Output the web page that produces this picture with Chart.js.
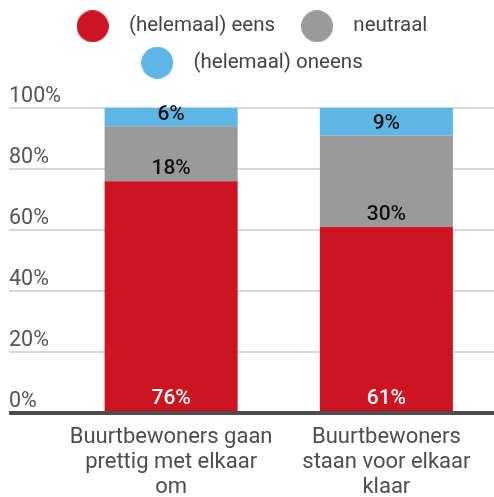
<!DOCTYPE html>
<html>
<head>
    <meta charset='utf-8'>
    <title>Buurtbewoners</title>
    <script src="https://cdn.jsdelivr.net/npm/chart.js@4"></script>
    <style>
        html, body { margin: 0; padding: 0; background: #fff; }
        #wrap { width: 494px; height: 497px; }
    </style>
</head>
<body>
    <div id="wrap"><canvas id="myChart"></canvas></div>
    <script>
        // data
        const categorieen = [
            ['Buurtbewoners gaan', 'prettig met elkaar', 'om'],
            ['Buurtbewoners', 'staan voor elkaar', 'klaar']
        ];
        const reeksen = ['(helemaal) eens', 'neutraal', '(helemaal) oneens'];
        const eens = [76, 61];
        const neutraal = [18, 30];
        const oneens = [6, 9];
        const kleuren = ['#cc1520', '#9a9a9a', '#5db6e4'];
        const labelKleuren = ['#ffffff', '#111111', '#111111'];
        const yTicks = [0, 20, 40, 60, 80, 100];

        Chart.defaults.font.family = 'Roboto';

        // ronde bolletjes voor de legenda
        function maakBol(kleur) {
            const c = document.createElement('canvas');
            c.width = 32; c.height = 32;
            const g = c.getContext('2d');
            g.fillStyle = kleur;
            g.beginPath();
            g.arc(16, 16, 16, 0, Math.PI * 2);
            g.fill();
            return c;
        }
        const bollen = kleuren.map(maakBol);

        // percentages in de staven
        const staafLabels = {
            id: 'staafLabels',
            afterDatasetsDraw(chart) {
                const ctx = chart.ctx;
                ctx.save();
                ctx.font = '500 21px Roboto';
                ctx.textAlign = 'center';
                ctx.textBaseline = 'middle';
                chart.data.datasets.forEach((ds, i) => {
                    chart.getDatasetMeta(i).data.forEach((bar, j) => {
                        ctx.fillStyle = labelKleuren[i];
                        ctx.fillText(ds.data[j] + '%', bar.x, bar.base - 12);
                    });
                });
                ctx.restore();
            }
        };

        // ruimte onder de legenda
        const legendaRuimte = {
            id: 'legendaRuimte',
            beforeInit(chart) {
                const fit = chart.legend.fit;
                chart.legend.fit = function () {
                    fit.call(this);
                    this.height = 108;
                };
            }
        };

        const gegevens = [eens, neutraal, oneens];

        new Chart(document.getElementById('myChart'), {
            type: 'bar',
            data: {
                labels: categorieen,
                datasets: reeksen.map((naam, i) => ({
                    label: naam,
                    data: gegevens[i],
                    backgroundColor: kleuren[i],
                    categoryPercentage: 1,
                    barPercentage: 0.618
                }))
            },
            options: {
                responsive: true,
                maintainAspectRatio: false,
                animation: false,
                layout: { padding: 0 },
                plugins: {
                    tooltip: { enabled: false },
                    legend: {
                        position: 'top',
                        labels: {
                            usePointStyle: true,
                            pointStyleWidth: 52,
                            padding: 16,
                            color: '#444444',
                            font: { size: 20.5 },
                            generateLabels(chart) {
                                const items = Chart.defaults.plugins.legend.labels.generateLabels(chart);
                                items.forEach((it, i) => { it.pointStyle = bollen[i]; });
                                return items;
                            }
                        }
                    }
                },
                scales: {
                    x: {
                        stacked: true,
                        grid: { display: false, drawTicks: false },
                        border: { display: false },
                        ticks: {
                            color: '#4d4d4d',
                            font: { size: 22, lineHeight: 25 / 22 },
                            padding: 12,
                            maxRotation: 0
                        },
                        afterFit(scale) { scale.height = 84; }
                    },
                    y: {
                        stacked: true,
                        min: 0,
                        max: 100,
                        afterBuildTicks(scale) {
                            scale.ticks = yTicks.map(v => ({ value: v }));
                        },
                        grid: {
                            color: c => c.tick && c.tick.value === 0 ? '#4d4d4d' : '#d9d9d9',
                            lineWidth: c => c.tick && c.tick.value === 0 ? 4 : 2,
                            tickLength: 54.5
                        },
                        border: { display: false },
                        ticks: {
                            mirror: true,
                            padding: -54.5,
                            labelOffset: -11,
                            color: '#555555',
                            font: { size: 21.5 },
                            callback: v => v + '%'
                        },
                        afterFit(scale) { scale.width = 63.5; }
                    }
                }
            },
            plugins: [staafLabels, legendaRuimte]
        });
    </script>
</body>
</html>
